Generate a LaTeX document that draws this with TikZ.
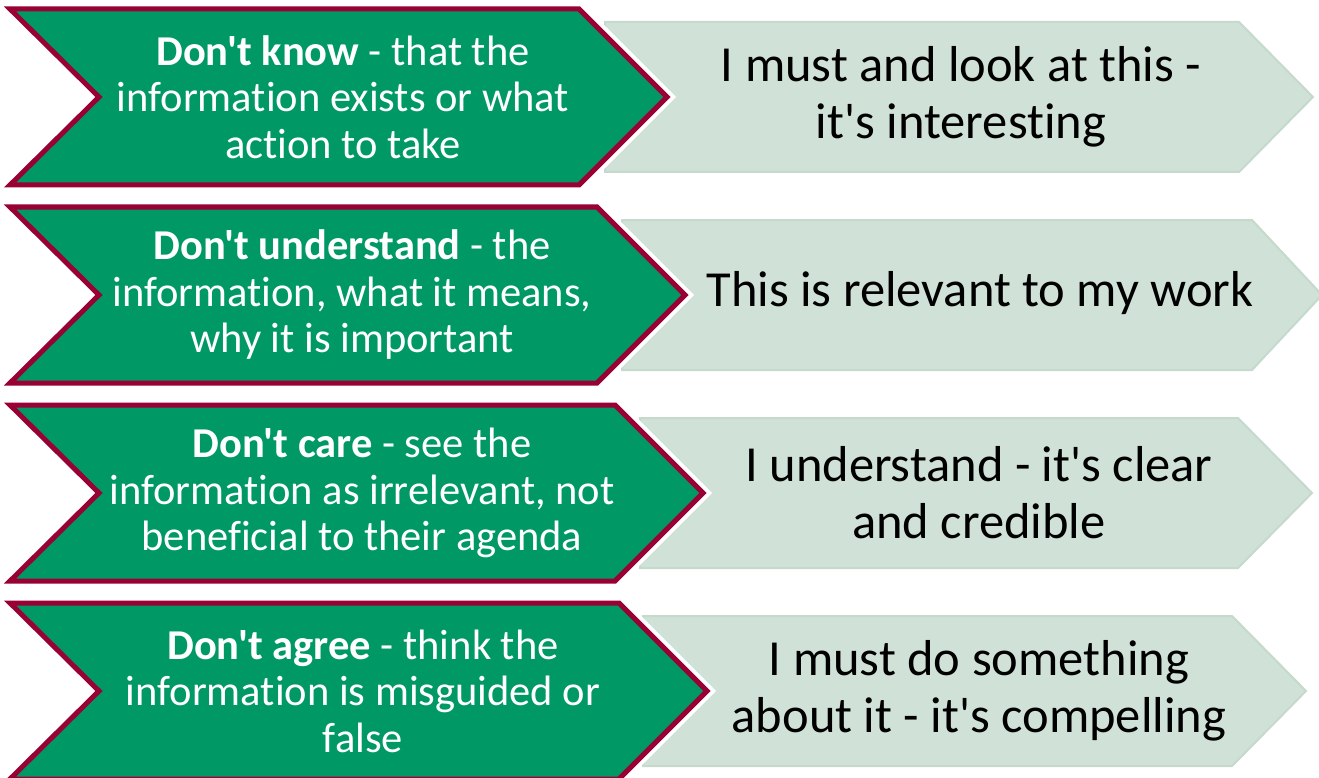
\documentclass[tikz,border=0pt]{standalone}
\usepackage{fontspec}
\newfontfamily\calibri[RawFeature = {-liga;-clig;-calt;-dlig}]{Carlito}

\definecolor{verd}{RGB}{0,153,102}
\definecolor{granat}{RGB}{153,0,51}
\definecolor{clar}{RGB}{208,225,216}
\definecolor{clarvora}{RGB}{197,217,205}

\tikzset{
	fletxaclara/.style = {fill = clar, draw = clarvora, line width = 2pt, line join = miter},
	fletxaverda/.style = {fill = verd, draw = granat, line width = 5pt, line join = miter,
		preaction = {draw = white, line width = 13pt, line join = miter}},
	textverd/.style = {text = white, align = center, font = \calibri\fontsize{42.5}{46.5}\selectfont},
	textclar/.style = {text = black, align = center, font = \calibri\fontsize{50.5}{57}\selectfont}
}

\begin{document}
\begin{tikzpicture}[x = 1pt, y = -1pt]
			\useasboundingbox (0,0) rectangle (1319,778);
			% fila 1
			\path[fletxaclara] (605,22) -- (1239,22) -- (1313,97) -- (1239,172) -- (605,172) -- cycle;
			\path[fletxaverda] (10,9) -- (579,9) -- (667,97) -- (579,185) -- (10,185) -- (99,97) -- cycle;
			\node[textverd] (saber) at (343,97) {\textbf{Don't know} - that the\\information exists or what\\action to take};
			\node[textclar] (interes) at (961,97) {I must and look at this -\\it's interesting};
			% fila 2
			\path[fletxaclara] (622,220) -- (1252,220) -- (1322,295) -- (1252,370) -- (622,370) -- cycle;
			\path[fletxaverda] (10,207) -- (597,207) -- (685,295) -- (597,383) -- (10,383) -- (99,295) -- cycle;
			\node[textverd] (entendre) at (352,295) {\textbf{Don't understand} - the\\information, what it means,\\why it is important};
			\node[textclar] (feina) at (980,293) {This is relevant to my work};
			% fila 3
			\path[fletxaclara] (640,418) -- (1238,418) -- (1312,493) -- (1238,568) -- (640,568) -- cycle;
			\path[fletxaverda] (10,405) -- (615,405) -- (703,493) -- (615,581) -- (10,581) -- (99,493) -- cycle;
			\node[textverd] (importar) at (362,493) {\textbf{Don't care} - see the\\information as irrelevant, not\\beneficial to their agenda};
			\node[textclar] (clar) at (979,493) {I understand - it's clear\\and credible};
			% fila 4
			\path[fletxaclara] (643,616) -- (1232,616) -- (1306,691) -- (1232,766) -- (643,766) -- cycle;
			\path[fletxaverda] (10,603) -- (619,603) -- (707,691) -- (619,779) -- (10,779) -- (99,691) -- cycle;
			\node[textverd] (acord) at (363,691) {\textbf{Don't agree} - think the\\information is misguided or\\false};
			\node[textclar] (convincent) at (979,691) {I must do something\\about it - it's compelling};
		\end{tikzpicture}
\end{document}
